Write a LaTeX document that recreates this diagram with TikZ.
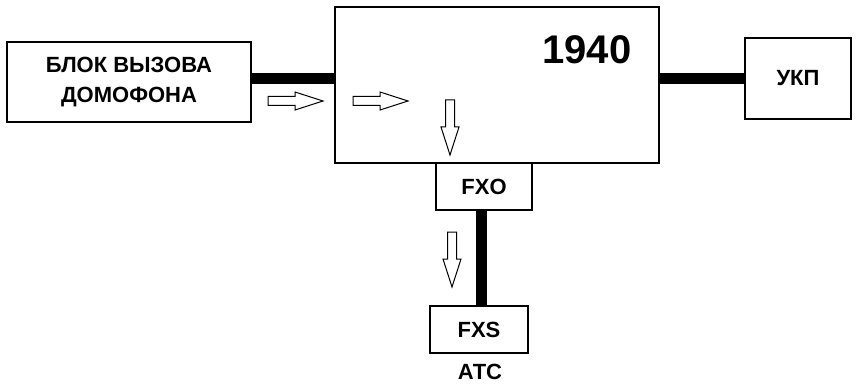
\documentclass[tikz,border=0pt]{standalone}
\usepackage{fontspec}
\setmainfont{Liberation Sans}
\begin{document}
\begin{tikzpicture}[x=1pt,y=-1pt,
  box/.style={draw,line width=2.4pt,rectangle,inner sep=0pt,font=\fontsize{22}{30}\selectfont\bfseries,align=center},
  bus/.style={line width=11pt},
  hollow/.style={draw,line width=1pt,fill=white,line join=miter}]
\useasboundingbox (0,0) rectangle (856,385);
\node[box,minimum width=244,minimum height=80] (blk) at (129,82) {БЛОК ВЫЗОВА\\ДОМОФОНА};
\node[box,minimum width=324,minimum height=156] (main) at (497,85) {};
\node[box,minimum width=106,minimum height=81] (ukp) at (798,78.5) {УКП};
\node[box,minimum width=96,minimum height=47,fill=white] (fxo) at (484,186.5) {FXO};
\node[box,minimum width=98,minimum height=47] (fxs) at (479,329.5) {FXS};
\node[font=\fontsize{40}{44}\selectfont\bfseries] (num) at (587,50) {1940};
\node[font=\fontsize{22}{26}\selectfont\bfseries] (atc) at (480,372) {АТС};
\coordinate (b1) at ([yshift=3pt]blk.east);
\coordinate (b2) at ([xshift=2pt]fxs.north);
\draw[bus] (b1) -- (main.west |- b1);
\draw[bus] (ukp.west) -- (main.east |- ukp.west);
\draw[bus] (b2) -- (b2 |- fxo.south);
% hollow arrows
\foreach \x/\y in {268/101,353/101}{
  \draw[hollow] (\x,\y-4.5) -- ++(27,0) -- ++(0,-4.5) -- ++(28,9) -- ++(-28,9) -- ++(0,-4.5) -- ++(-27,0) -- cycle;
}
\foreach \x/\y in {450/100,452/232}{
  \draw[hollow] (\x-4.5,\y) -- ++(0,27) -- ++(-4.5,0) -- ++(9,28) -- ++(9,-28) -- ++(-4.5,0) -- ++(0,-27) -- cycle;
}
\end{tikzpicture}
\end{document}
